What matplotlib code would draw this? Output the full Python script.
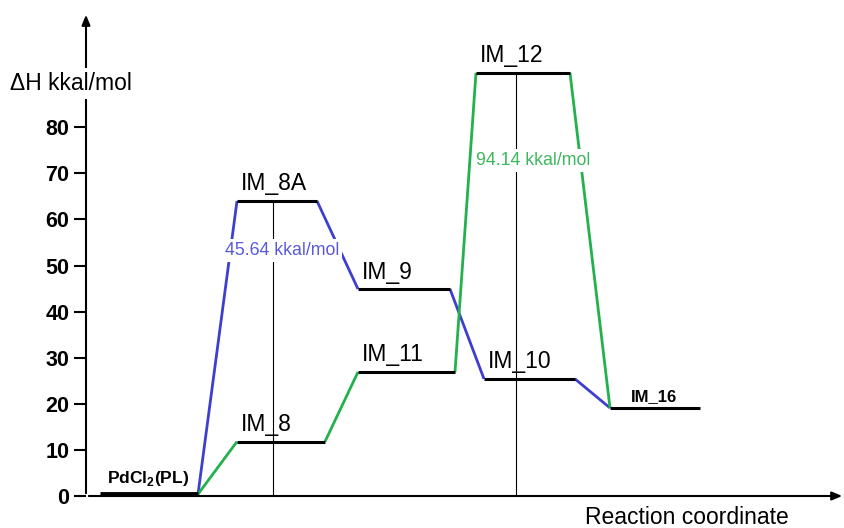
# energy profile: PdCl2(PL) pathways
import matplotlib.pyplot as plt

plt.rcParams['font.family'] = ['Liberation Sans', 'DejaVu Sans']
plt.rcParams['mathtext.fontset'] = 'custom'
plt.rcParams['mathtext.rm'] = 'Liberation Sans'
plt.rcParams['mathtext.bf'] = 'Liberation Sans:bold'

# data
names = ['PdCl₂(PL)', 'IM_8', 'IM_8A', 'IM_11', 'IM_9', 'IM_12', 'IM_10', 'IM_16']
energies = [0.4, 11.8, 64.0, 26.9, 44.9, 91.8, 25.4, 19.1]
barriers = [45.64, 94.14]
yticks = [0, 10, 20, 30, 40, 50, 60, 70, 80]

# layout: horizontal span of each level (reaction coordinate units)
x_start = [100, 237, 237, 358, 358, 476, 484, 610]
x_end = [198, 325, 317, 455, 450, 570, 575, 700]

E = dict(zip(names, energies))
XS = dict(zip(names, x_start))
XE = dict(zip(names, x_end))

blue_path = ['PdCl₂(PL)', 'IM_8A', 'IM_9', 'IM_10', 'IM_16']
green_path = ['PdCl₂(PL)', 'IM_8', 'IM_11', 'IM_12', 'IM_16']
blue = '#3c3fcf'
green = '#22b14c'

fig = plt.figure(figsize=(8.45, 5.28), dpi=100)
ax = fig.add_axes([86 / 845, 32 / 528, 759 / 845, 484 / 528])
ax.set_xlim(86, 845)
ax.set_ylim(0, 105)
for s in ax.spines.values():
    s.set_visible(False)
ax.set_xticks([])
ax.set_yticks(yticks)
ax.tick_params(axis='y', length=9, width=1.5, direction='out', pad=3, labelsize=15.5)
for t in ax.get_yticklabels():
    t.set_fontweight('bold')

# axes arrows
ax.annotate('', xy=(1, 0), xytext=(0, 0), xycoords='axes fraction',
            arrowprops=dict(arrowstyle='-|>,head_length=0.6,head_width=0.25', lw=1.5, color='black'),
            annotation_clip=False)
ax.annotate('', xy=(0, 1), xytext=(0, 0), xycoords='axes fraction',
            arrowprops=dict(arrowstyle='-|>,head_length=0.6,head_width=0.25', lw=1.5, color='black'),
            annotation_clip=False)

# connecting lines
def connect(path, color):
    for a, b in zip(path[:-1], path[1:]):
        ax.plot([XE[a], XS[b]], [E[a], E[b]], color=color, lw=2.0, zorder=2, solid_capstyle='butt')

connect(blue_path, blue)
connect(green_path, green)

# levels
for n in names:
    lw = 3.5 if n == 'PdCl₂(PL)' else 2.2
    ax.plot([XS[n], XE[n]], [E[n], E[n]], color='black', lw=lw, zorder=3, solid_capstyle='butt')

# thin vertical guides
ax.plot([273, 273], [0, E['IM_8A']], color='black', lw=0.8, zorder=1)
ax.plot([516, 516], [0, E['IM_12']], color='black', lw=0.8, zorder=1)

# level labels
for n in names:
    if n in ('PdCl₂(PL)', 'IM_16'):
        continue
    ax.text(XS[n] + 4, E[n] + 1.2, n, fontsize=16.5, ha='left', va='bottom', zorder=5)
ax.text(XS['PdCl₂(PL)'] + 7, E['PdCl₂(PL)'] + 1.3, r'PdCl$_\mathbf{2}$(PL)', fontsize=12.5,
        fontweight='bold', ha='left', va='bottom', zorder=5)
ax.text(XS['IM_16'] + 21, E['IM_16'] + 0.9, 'IM_16', fontsize=12,
        fontweight='bold', ha='left', va='bottom', zorder=5)

# barrier labels
bbox = dict(facecolor='white', edgecolor='none', pad=2)
ax.text(282, 53.3, f'{barriers[0]:.2f} kkal/mol', color='#5a5ad8', fontsize=12.8,
        ha='center', va='center', bbox=bbox, zorder=4)
ax.text(533, 72.8, f'{barriers[1]:.2f} kkal/mol', color='#3cb85c', fontsize=12.8,
        ha='center', va='center', bbox=bbox, zorder=4)

# axis titles
ax.text(71, 89.5, 'ΔH kkal/mol', fontsize=16.5, ha='center', va='center',
        bbox=dict(facecolor='white', edgecolor='none', pad=3), zorder=6, clip_on=False)
ax.text(687, -2.2, 'Reaction coordinate', fontsize=16.5, ha='center', va='top', clip_on=False)

fig.savefig('out.png', dpi=100)
